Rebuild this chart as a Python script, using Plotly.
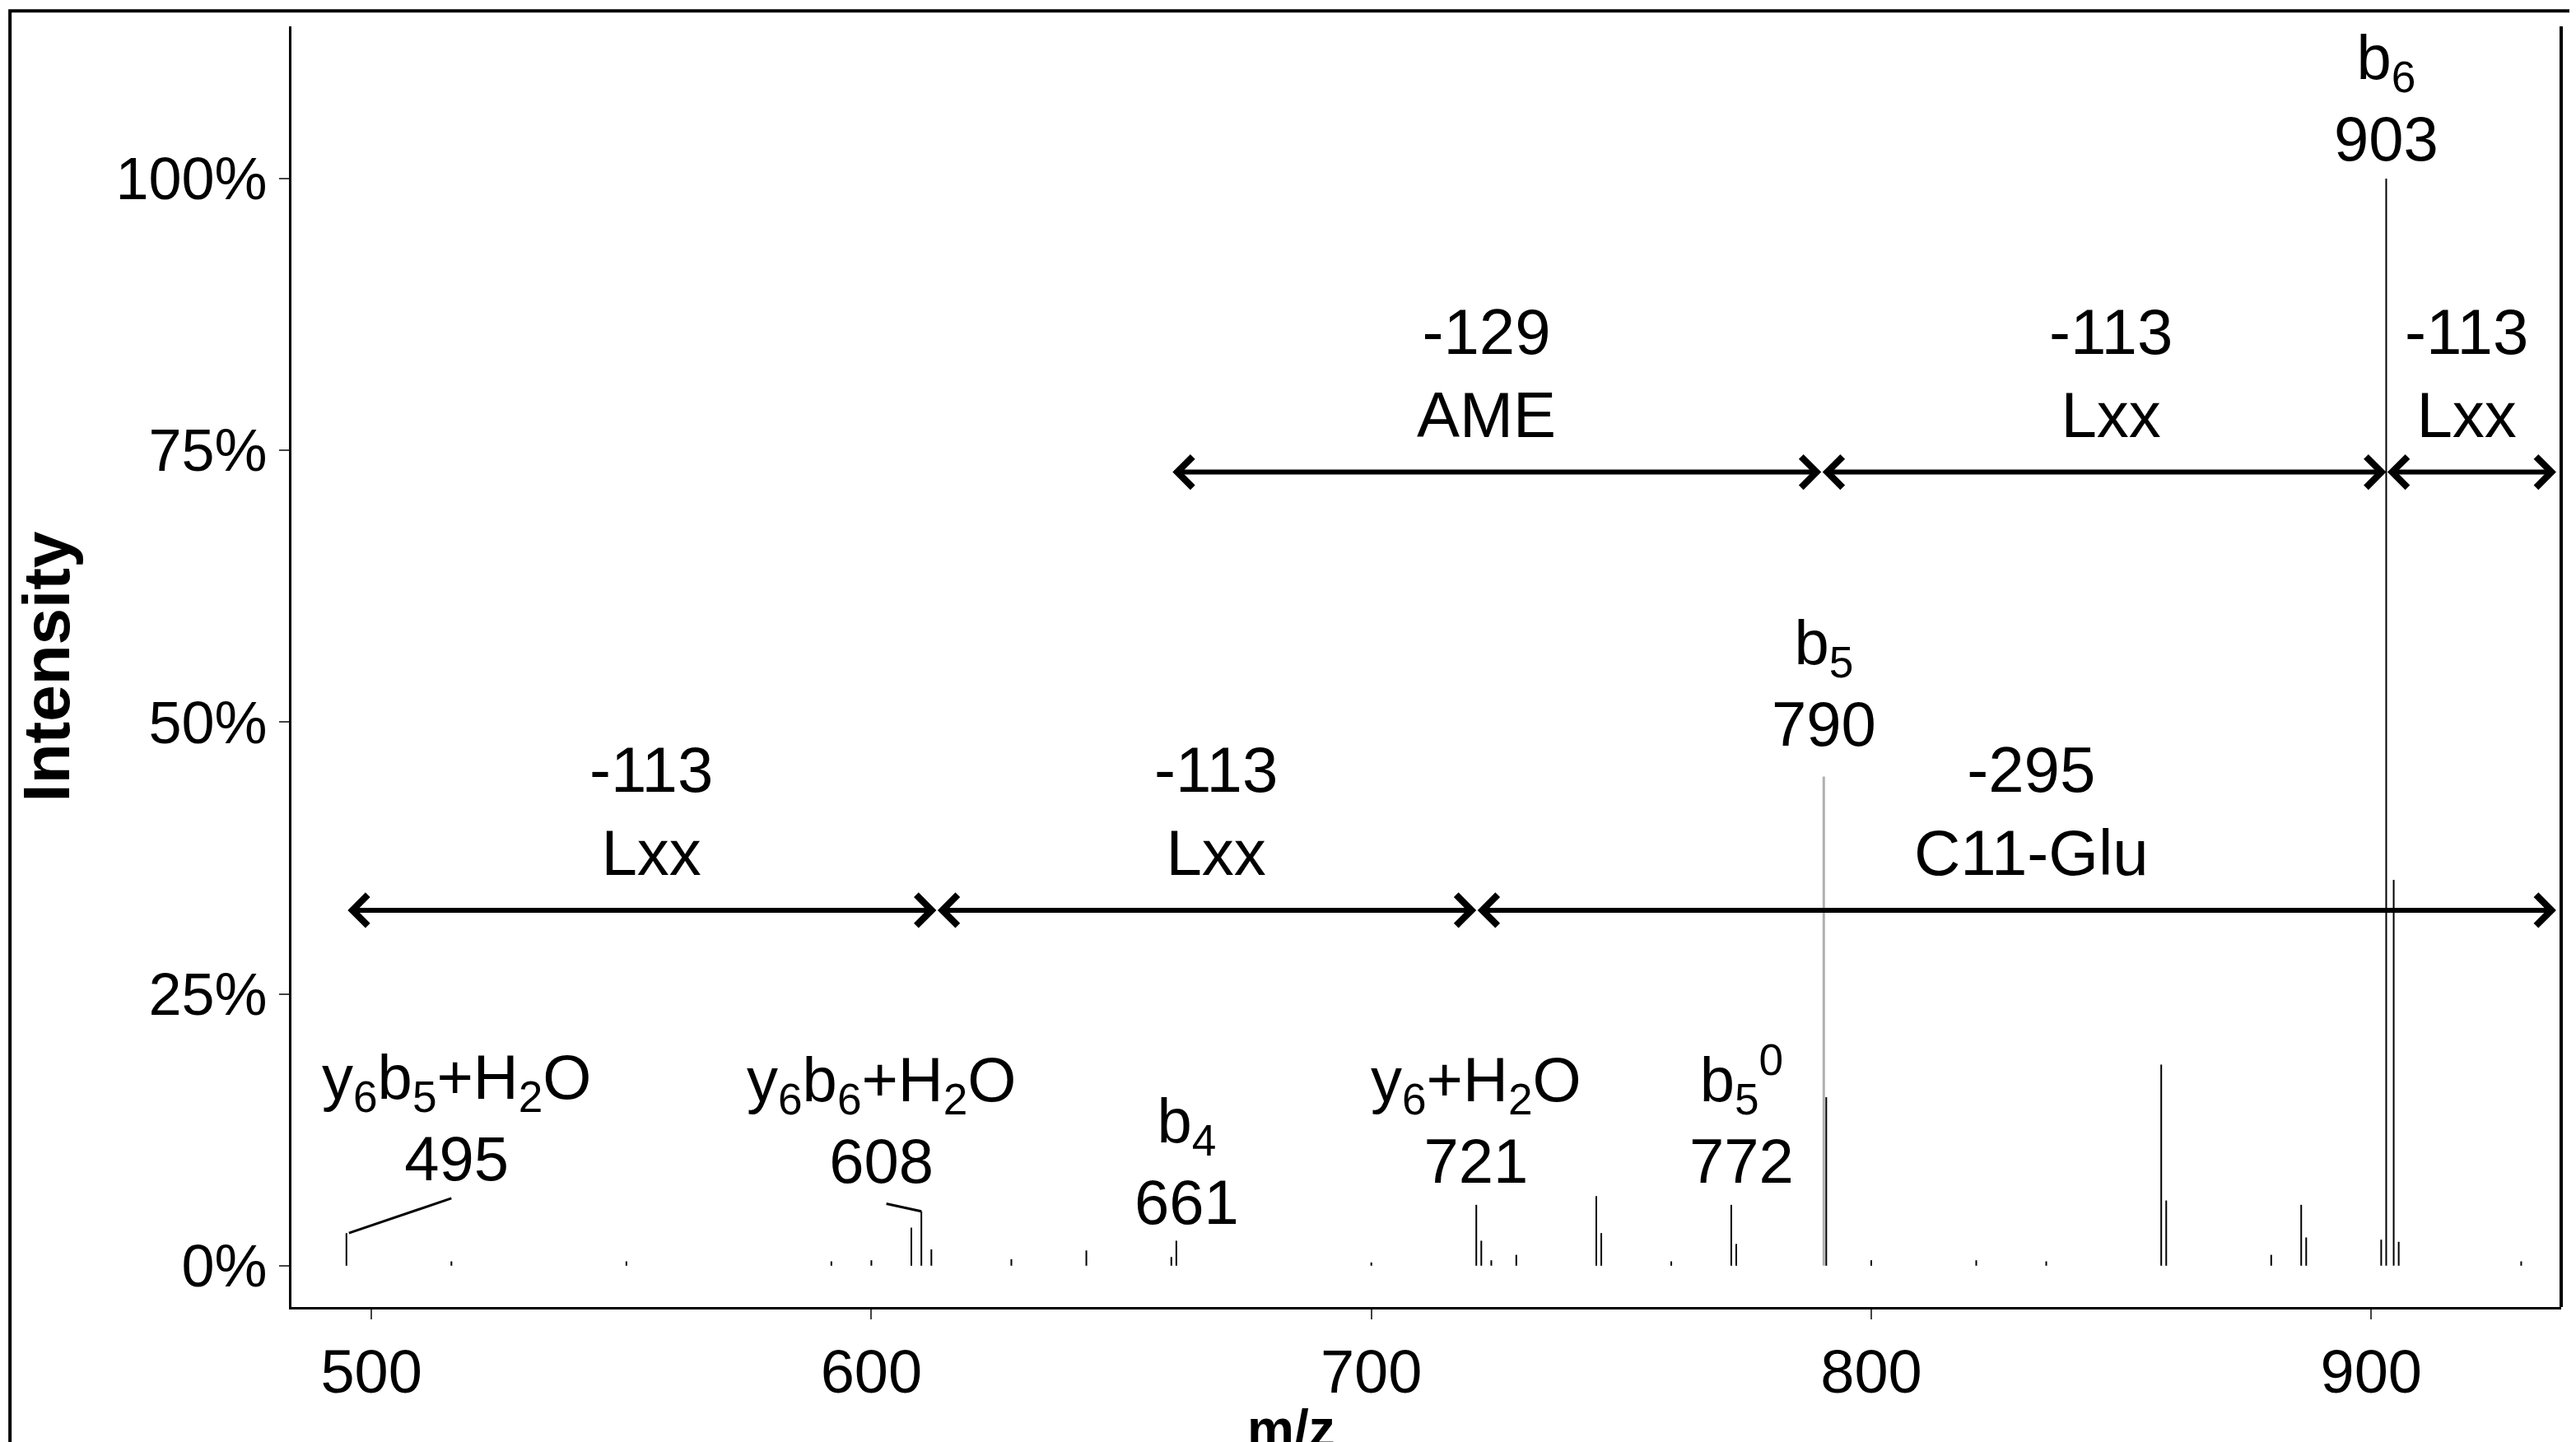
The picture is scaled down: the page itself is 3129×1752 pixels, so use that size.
import plotly.graph_objects as go

mz = [495, 516, 551, 592, 600, 608, 610, 612, 628, 643, 660, 661, 700, 721, 722, 724, 729, 745, 746, 760, 772, 773, 790.5, 791, 800, 821, 835, 858, 859, 880, 886, 887, 902, 903, 904.5, 905.5, 930]
inten = [3.0, 0.4, 0.4, 0.4, 0.5, 3.5, 5.0, 1.5, 0.6, 1.4, 0.8, 2.3, 0.3, 5.6, 2.3, 0.5, 1.0, 6.4, 3.0, 0.4, 5.6, 2.0, 45, 15.5, 0.5, 0.5, 0.4, 18.5, 6.0, 1.0, 5.6, 2.6, 2.4, 100, 35.5, 2.2, 0.4]
gray = [790.5]

tick_vals = [0, 25, 50, 75, 100]
tick_text = ["0%", "25%", "50%", "75%", "100%"]

peak_labels = [("y<sub>6</sub>b<sub>5</sub>+H<sub>2</sub>O<br>495", 517, 6.5), ("y<sub>6</sub>b<sub>6</sub>+H<sub>2</sub>O<br>608", 602, 6.3),
               ("b<sub>4</sub><br>661", 663, 2.5), ("y<sub>6</sub>+H<sub>2</sub>O<br>721", 721, 6.3),
               ("b<sub>5</sub><sup>0</sup><br>772", 774, 6.3), ("b<sub>5</sub><br>790", 790.5, 46.5),
               ("b<sub>6</sub><br>903", 903, 100.3)]

arrows = [(660, 790, 73), (790, 903, 73), (903, 937, 73), (495, 613, 32.7), (613, 721, 32.7), (721, 937, 32.7)]
arrow_labels = [("-129<br>AME", 723, 74.8), ("-113<br>Lxx", 848, 74.8), ("-113<br>Lxx", 919, 74.8),
                ("-113<br>Lxx", 556, 34.5), ("-113<br>Lxx", 669, 34.5), ("-295<br>C11-Glu", 832, 34.5)]

def segs(xs, ys):
    X, Y = [], []
    for x, y in zip(xs, ys):
        X += [x, x, None]; Y += [0, y, None]
    return X, Y

bx = [m for m in mz if m not in gray]; by = [i for m, i in zip(mz, inten) if m not in gray]
gx = [m for m in mz if m in gray]; gy = [i for m, i in zip(mz, inten) if m in gray]

fig = go.Figure()
X, Y = segs(bx, by)
fig.add_trace(go.Scatter(x=X, y=Y, mode="lines", line=dict(color="black", width=2), hoverinfo="skip"))
X, Y = segs(gx, gy)
fig.add_trace(go.Scatter(x=X, y=Y, mode="lines", line=dict(color="#b0b0b0", width=3), hoverinfo="skip"))

F = "Liberation Sans, Arial, sans-serif"
for t, x, y in peak_labels:
    fig.add_annotation(x=x, y=y, text=t, showarrow=False, yanchor="bottom", font=dict(size=76, color="black", family=F))
for t, x, y in arrow_labels:
    fig.add_annotation(x=x, y=y, text=t, showarrow=False, yanchor="bottom", font=dict(size=78, color="black", family=F))
for x0, x1, y in arrows:
    fig.add_annotation(x=x1, y=y, ax=x0, ay=y, xref="x", yref="y", axref="x", ayref="y", text="",
                       showarrow=True, arrowhead=4, startarrowhead=4, arrowside="end+start",
                       arrowwidth=6, arrowsize=1.2, startarrowsize=1.2, arrowcolor="black")
fig.add_shape(type="line", x0=495.5, y0=3.0, x1=516, y1=6.2, line=dict(color="black", width=3))
fig.add_shape(type="line", x0=603, y0=5.7, x1=610, y1=5.0, line=dict(color="black", width=3))
fig.add_annotation(x=684, y=-0.095, xref="x", yref="paper", text="<b>m/z</b>", showarrow=False,
                   yanchor="middle", font=dict(size=64, color="black", family=F))

fig.update_layout(
    width=3129, height=1752, paper_bgcolor="white", plot_bgcolor="white", showlegend=False,
    margin=dict(l=346, r=26, t=24, b=172),
    font=dict(family=F, color="black"),
    xaxis=dict(range=[484, 938], tickvals=[500, 600, 700, 800, 900], ticks="outside", ticklen=12, tickwidth=2,
               showline=True, linecolor="black", linewidth=3, showgrid=False, zeroline=False,
               tickfont=dict(size=74)),
    yaxis=dict(range=[-3.8, 114], tickvals=tick_vals, ticktext=tick_text, ticks="outside", ticklen=12, tickwidth=2,
               showline=True, linecolor="black", linewidth=3, showgrid=False, zeroline=False,
               tickfont=dict(size=72), title=dict(text="<b>Intensity</b>", font=dict(size=80), standoff=30)),
)
fig.add_shape(type="line", xref="paper", yref="paper", x0=1, x1=1, y0=0, y1=1, line=dict(color="black", width=4))
fig.add_shape(type="rect", xref="paper", yref="paper", x0=-0.124, x1=1.006, y0=-0.108, y1=1.012,
              line=dict(color="black", width=4))
fig.write_html("out.html")
